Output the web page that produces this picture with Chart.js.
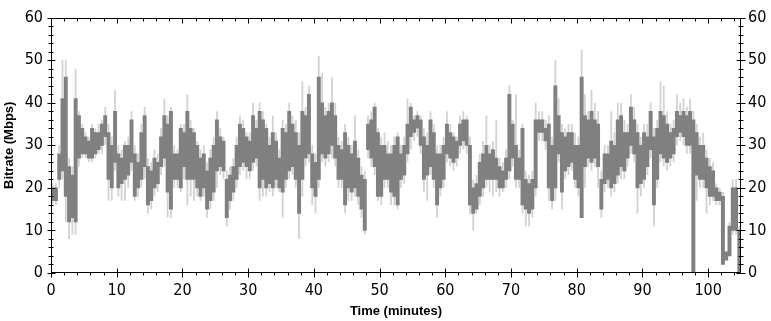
<!DOCTYPE html>
<html>
<head>
<meta charset="utf-8">
<script src="https://cdn.jsdelivr.net/npm/chart.js@4/dist/chart.umd.min.js"></script>
<style>
  html, body { margin: 0; padding: 0; background: #fff; }
  canvas { display: block; }
</style>
</head>
<body>
<canvas id="c" width="771" height="321"></canvas>
<script>
// ---- Data (0.5-minute bins, values in Mbps) ----
const binWidthMinutes = 0.5;
const darkLow = [
  17,17,22,24,18,12,13,12,27,28,
  28,27,27,28,29,30,32,22,20,26,
  20,21,22,23,26,18,20,22,25,16,
  17,20,21,25,27,19,15,22,22,20,
  25,22,22,22,20,18,20,15,17,19,
  24,25,24,13,17,19,22,25,26,25,
  24,26,27,20,22,20,21,20,22,20,
  19,22,24,25,22,14,22,27,28,20,
  18,22,28,27,28,30,27,22,22,16,
  20,19,20,18,15,10,29,27,25,18,
  18,22,22,19,18,16,22,23,28,32,
  33,34,30,22,23,25,22,16,20,22,
  28,27,26,27,30,31,30,16,14,15,
  18,20,22,22,22,22,20,20,22,24,
  27,22,22,16,15,14,15,20,33,33,
  31,20,17,20,28,19,24,25,26,22,
  20,13,25,27,26,27,25,15,21,22,
  20,21,23,25,24,27,30,28,20,21,
  22,25,29,16,22,28,27,26,27,28,
  32,33,32,30,30,0,23,22,22,20,
  18,18,17,17,2,3,4,10,10,0
];
const darkHigh = [
  20,20,28,41,46,25,23,41,37,34,
  32,31,34,33,33,35,37,33,30,38,
  28,27,30,30,36,28,26,33,37,25,
  24,27,26,32,37,35,38,28,28,34,
  33,38,34,33,30,27,28,24,27,30,
  36,32,31,22,23,25,30,35,34,32,
  31,37,34,38,36,34,30,33,31,27,
  34,33,38,35,33,30,38,37,42,28,
  26,46,40,37,38,40,37,30,29,33,
  30,28,31,27,23,22,35,36,39,33,
  30,30,28,28,30,32,28,30,35,39,
  36,37,36,32,30,36,33,28,28,30,
  35,33,32,31,35,36,36,30,20,21,
  26,28,30,28,29,27,25,24,27,42,
  35,30,27,34,22,21,22,36,36,36,
  34,35,30,44,37,33,32,33,33,30,
  30,46,37,36,38,36,35,22,28,28,
  31,30,36,37,33,33,39,36,33,30,
  33,32,38,32,34,38,37,35,33,34,
  38,37,38,37,38,36,33,30,30,27,
  25,24,20,19,18,5,11,20,20,10
];
const peakLow = [
  16,16,20,22,12,8,9,9,25,27,
  27,26,26,27,28,28,30,17,17,24,
  18,17,17,20,24,17,18,20,22,14,
  15,18,19,23,25,13,13,20,20,19,
  22,16,18,17,18,17,18,13,15,17,
  20,23,22,11,15,17,20,23,24,22,
  22,24,25,17,18,18,19,18,20,19,
  13,20,22,23,20,8,18,25,26,16,
  14,20,26,25,26,27,25,20,20,14,
  17,17,18,16,13,9,27,25,23,17,
  16,20,20,16,16,15,20,21,26,29,
  31,32,28,19,17,23,20,13,18,20,
  26,25,24,25,28,29,28,14,10,14,
  16,18,20,19,18,19,18,19,20,22,
  25,20,20,14,11,11,13,18,31,31,
  29,17,15,17,26,15,22,23,24,20,
  18,13,20,25,24,25,20,13,19,20,
  18,19,21,22,22,25,28,26,14,18,
  20,23,27,11,20,26,25,24,25,26,
  30,31,30,28,28,0,17,20,20,14,
  16,17,16,16,2,3,4,9,9,0
];
const peakHigh = [
  21,21,30,50,50,27,25,48,38,35,
  33,32,35,34,35,36,39,35,32,43,
  30,29,31,32,38,30,28,35,39,27,
  26,29,28,34,41,37,39,30,29,35,
  35,42,36,34,31,29,30,26,29,32,
  38,34,32,24,25,27,32,37,36,33,
  33,40,36,40,38,35,32,37,33,29,
  36,35,40,37,36,33,45,39,44,30,
  28,51,47,39,40,46,40,32,31,35,
  32,30,37,29,25,24,37,38,40,34,
  32,33,31,30,32,33,30,32,41,40,
  37,38,37,34,33,38,35,30,30,32,
  38,35,33,32,37,38,37,32,22,23,
  28,31,37,30,31,36,27,26,29,44,
  36,42,29,35,24,23,24,40,38,38,
  36,37,32,50,41,35,34,35,35,33,
  32,52.5,42,38,43,40,38,24,30,30,
  38,33,40,40,36,35,42,39,35,32,
  35,35,40,34,36,45,44,38,35,36,
  42,40,41,39,41,38,35,32,33,29,
  27,26,21,20,19,5,12,22,22,11
];
// bin centre times (minutes)
const timeMinutes = darkLow.map((_, i) => (i + 0.5) * binWidthMinutes);

const xTickLabels = [0, 10, 20, 30, 40, 50, 60, 70, 80, 90, 100];
const yTickLabels = [0, 10, 20, 30, 40, 50, 60];
const xMinorStep = 2;
const yMinorStep = 2;
const xRange = [0, 105];
const yRange = [0, 60];

// ---- build datasets ----
const darkData = timeMinutes.map((t, i) => ({ x: t, y: [darkLow[i], darkHigh[i]] }));
const peakData = timeMinutes.map((t, i) => ({ x: t, y: [peakLow[i], peakHigh[i]] }));

const tickFont = { family: "'Liberation Sans Narrow', 'DejaVu Sans Condensed', 'Liberation Sans', sans-serif", size: 16 };
const titleFont = { family: "'Liberation Sans', Arial, sans-serif", size: 13, weight: 'bold' };

const framePlugin = {
  id: 'frame',
  afterDatasetsDraw(chart) {
    const { ctx, chartArea: a, scales } = chart;
    const xs = scales.x, ys = scales.y;
    const L = Math.round(a.left) + 0.5, R = Math.round(a.right) - 0.5;
    const T = Math.round(a.top) + 0.5, B = Math.round(a.bottom) - 0.5;
    ctx.save();
    ctx.strokeStyle = '#000';
    ctx.lineWidth = 1;
    ctx.beginPath();
    ctx.moveTo(L, T); ctx.lineTo(R, T); ctx.lineTo(R, B); ctx.lineTo(L, B); ctx.closePath();
    for (let v = xRange[0]; v <= xRange[1] + 1e-9; v += xMinorStep) {
      const major = xTickLabels.includes(v);
      const px = Math.round(xs.getPixelForValue(v)) + 0.5;
      if (major) {
        ctx.moveTo(px, B - 4); ctx.lineTo(px, B + 5);
        ctx.moveTo(px, T); ctx.lineTo(px, T + 5);
      } else {
        ctx.moveTo(px, B); ctx.lineTo(px, B + 3);
        ctx.moveTo(px, T); ctx.lineTo(px, T + 3);
      }
    }
    for (let v = yRange[0]; v <= yRange[1] + 1e-9; v += yMinorStep) {
      const major = yTickLabels.includes(v);
      const py = Math.round(ys.getPixelForValue(v)) + 0.5;
      if (major) {
        ctx.moveTo(L - 4, py); ctx.lineTo(L + 4, py);
        ctx.moveTo(R - 4, py); ctx.lineTo(R + 5, py);
      } else {
        ctx.moveTo(L - 3, py); ctx.lineTo(L + 2, py);
        ctx.moveTo(R - 2, py); ctx.lineTo(R + 3, py);
      }
    }
    ctx.stroke();
    ctx.restore();
  }
};

new Chart(document.getElementById('c'), {
  type: 'bar',
  data: {
    datasets: [
      { label: 'Average', data: darkData, backgroundColor: '#808080', borderWidth: 0,
        barPercentage: 1, categoryPercentage: 1, grouped: false, order: 0 },
      { label: 'Peak', data: peakData, backgroundColor: '#d2d2d2', borderWidth: 0,
        barPercentage: 0.55, categoryPercentage: 1, grouped: false, order: 1 }
    ]
  },
  options: {
    responsive: false,
    animation: false,
    devicePixelRatio: 1,
    layout: { padding: { top: 11, left: 0, right: 0, bottom: 0 } },
    plugins: { legend: { display: false }, tooltip: { enabled: false } },
    scales: {
      x: {
        type: 'linear', position: 'bottom', offset: false,
        min: xRange[0], max: xRange[1],
        afterFit(s) { s.height = 48; },
        afterBuildTicks(s) { s.ticks = xTickLabels.map(v => ({ value: v })); },
        grid: { display: false, drawTicks: false },
        border: { display: false },
        ticks: { padding: 8, color: '#000', font: tickFont, maxRotation: 0, autoSkip: false },
        title: { display: true, text: 'Time (minutes)', color: '#000', font: titleFont, padding: { top: 0, bottom: 2 } }
      },
      y: {
        type: 'linear', position: 'left', min: yRange[0], max: yRange[1],
        afterFit(s) { s.width = 51; },
        afterBuildTicks(s) { s.ticks = yTickLabels.map(v => ({ value: v })); },
        grid: { display: false, drawTicks: false },
        border: { display: false },
        ticks: { padding: 8, color: '#000', font: tickFont },
        title: { display: true, text: 'Bitrate (Mbps)', color: '#000', font: titleFont, padding: { top: 2, bottom: 0 } }
      },
      y2: {
        type: 'linear', position: 'right', min: yRange[0], max: yRange[1],
        afterFit(s) { s.width = 30; },
        afterBuildTicks(s) { s.ticks = yTickLabels.map(v => ({ value: v })); },
        grid: { display: false, drawTicks: false },
        border: { display: false },
        ticks: { padding: 7, color: '#000', font: tickFont }
      }
    }
  },
  plugins: [framePlugin]
});
</script>
</body>
</html>
